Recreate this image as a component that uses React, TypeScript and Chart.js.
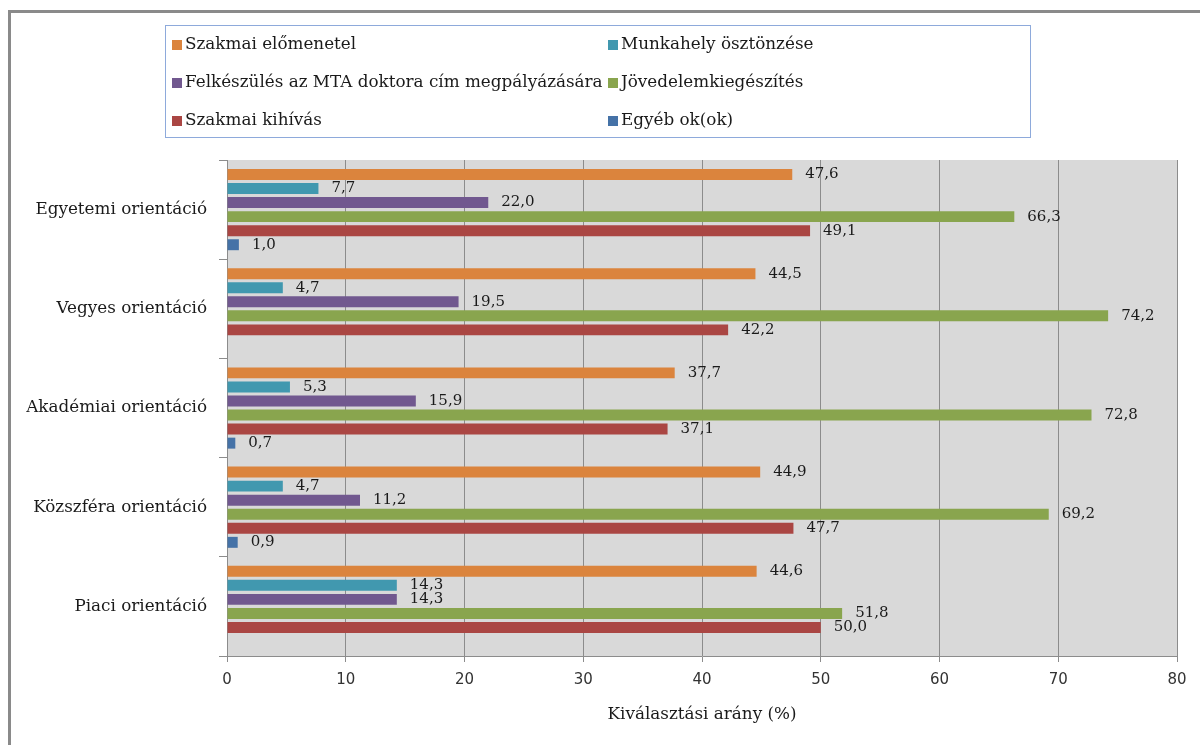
import React, { useEffect, useRef } from "react";
import { Chart, registerables } from "chart.js";

Chart.register(...registerables);

const categories = [
  "Egyetemi orientáció",
  "Vegyes orientáció",
  "Akadémiai orientáció",
  "Közszféra orientáció",
  "Piaci orientáció",
];

const seriesNames = [
  "Szakmai előmenetel",
  "Munkahely ösztönzése",
  "Felkészülés az MTA doktora cím megpályázására",
  "Jövedelemkiegészítés",
  "Szakmai kihívás",
  "Egyéb ok(ok)",
];

const szakmaiElomenetel = [47.6, 44.5, 37.7, 44.9, 44.6];
const munkahelyOsztonzese = [7.7, 4.7, 5.3, 4.7, 14.3];
const felkeszulesMTA = [22.0, 19.5, 15.9, 11.2, 14.3];
const jovedelemkiegeszites = [66.3, 74.2, 72.8, 69.2, 51.8];
const szakmaiKihivas = [49.1, 42.2, 37.1, 47.7, 50.0];
const egyebOkok: (number | null)[] = [1.0, null, 0.7, 0.9, null];

const xTicks = [0, 10, 20, 30, 40, 50, 60, 70, 80];

const colors = ["#DB843D", "#4198AF", "#71588F", "#89A54E", "#AA4643", "#4572A7"];

const SERIF = '"DejaVu Serif", serif';
const SANS = '"DejaVu Sans", sans-serif';

const bgPlugin = {
  id: "plotBg",
  beforeDraw(chart: any) {
    const { ctx, chartArea } = chart;
    ctx.save();
    ctx.fillStyle = "#D9D9D9";
    ctx.fillRect(chartArea.left, chartArea.top, chartArea.right - chartArea.left, chartArea.bottom - chartArea.top);
    ctx.restore();
  },
};

const labelPlugin = {
  id: "valueLabels",
  afterDatasetsDraw(chart: any) {
    const { ctx } = chart;
    ctx.save();
    ctx.font = `15px ${SERIF}`;
    ctx.fillStyle = "#1a1a1a";
    ctx.textAlign = "left";
    ctx.textBaseline = "middle";
    chart.data.datasets.forEach((ds: any, i: number) => {
      const meta = chart.getDatasetMeta(i);
      meta.data.forEach((bar: any, j: number) => {
        const v = ds.data[j];
        if (v === null || v === undefined) return;
        ctx.fillText(v.toFixed(1).replace(".", ","), bar.x + 13, bar.y);
      });
    });
    ctx.restore();
  },
};

const legendPlugin = {
  id: "boxLegend",
  afterDraw(chart: any) {
    const { ctx } = chart;
    ctx.save();
    ctx.strokeStyle = "#8EAADB";
    ctx.lineWidth = 1;
    ctx.strokeRect(165.5, 25.5, 865, 112);
    ctx.font = `16.8px ${SERIF}`;
    ctx.textAlign = "left";
    ctx.textBaseline = "middle";
    const rows = [45, 83, 121];
    const cols = [172, 608];
    chart.data.datasets.forEach((ds: any, i: number) => {
      const col = i % 2;
      const row = Math.floor(i / 2);
      const x = cols[col];
      const y = rows[row];
      ctx.fillStyle = ds.backgroundColor;
      ctx.fillRect(x, y - 5, 10, 10);
      ctx.fillStyle = "#1a1a1a";
      ctx.fillText(ds.label, x + 13, y);
    });
    ctx.restore();
  },
};

export default function App() {
  const ref = useRef<HTMLCanvasElement | null>(null);
  useEffect(() => {
    if (!ref.current) return;
    const seriesData = [
      szakmaiElomenetel,
      munkahelyOsztonzese,
      felkeszulesMTA,
      jovedelemkiegeszites,
      szakmaiKihivas,
      egyebOkok,
    ];
    const chart = new Chart(ref.current, {
      type: "bar",
      data: {
        labels: categories,
        datasets: seriesNames.map((name, i) => ({
          label: name,
          data: seriesData[i] as any,
          backgroundColor: colors[i],
          borderWidth: 0,
          categoryPercentage: 0.85,
          barPercentage: 0.78,
        })),
      },
      options: {
        indexAxis: "y",
        responsive: false,
        animation: false,
        layout: { padding: { top: 160, right: 23, left: 0, bottom: 0 } },
        plugins: {
          legend: { display: false },
          tooltip: { enabled: false },
        },
        scales: {
          x: {
            min: 0,
            max: 80,
            afterBuildTicks(scale: any) {
              scale.ticks = xTicks.map((v) => ({ value: v }));
            },
            afterFit(scale: any) {
              scale.height = 89;
            },
            ticks: {
              font: { family: SANS, size: 15 },
              color: "#333",
              padding: 9,
            },
            grid: {
              color: "#8C8C8C",
              lineWidth: 1,
              tickLength: 6,
            },
            border: { color: "#8C8C8C" },
            title: {
              display: true,
              text: "Kiválasztási arány (%)",
              font: { family: SERIF, size: 16.8 },
              color: "#1a1a1a",
              padding: { top: 0, bottom: 20 },
            },
          },
          y: {
            afterFit(scale: any) {
              scale.width = 227;
            },
            ticks: {
              font: { family: SERIF, size: 16.8 },
              color: "#1a1a1a",
              padding: 12,
            },
            grid: {
              drawOnChartArea: false,
              color: "#8C8C8C",
              tickLength: 8,
              offset: true,
            },
            border: { color: "#8C8C8C" },
          },
        },
      },
      plugins: [bgPlugin, labelPlugin, legendPlugin],
    });
    return () => chart.destroy();
  }, []);

  return (
    <div style={{ position: "fixed", left: 0, top: 0, width: 1200, height: 745, overflow: "hidden", background: "#fff" }}>
      <div
        style={{
          position: "absolute",
          left: 8,
          top: 10,
          width: 1300,
          height: 900,
          border: "3px solid #8A8A8A",
          boxSizing: "border-box",
        }}
      />
      <canvas ref={ref} width={1200} height={745} style={{ position: "absolute", left: 0, top: 0 }} />
    </div>
  );
}
